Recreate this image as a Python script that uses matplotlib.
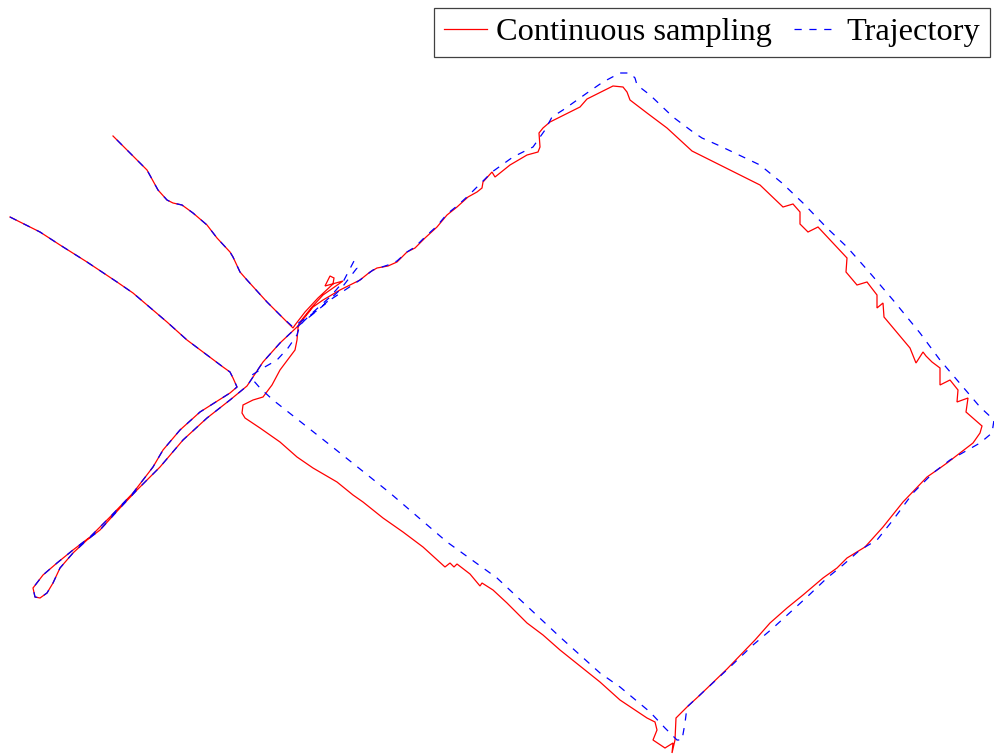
import matplotlib
matplotlib.use("Agg")
import matplotlib.pyplot as plt

plt.rcParams["lines.scale_dashes"] = False
plt.rcParams["font.family"] = ["Liberation Serif", "DejaVu Serif"]

# Ground-truth trajectory (planar position, map units; y grows downward)
traj_x = [10, 20, 40, 60, 87, 117, 133, 153, 167, 187, 207, 223, 230, 233, 237,
          230, 200, 180, 163, 153, 143, 133, 110, 90, 73, 57, 43, 33, 35, 40, 47,
          53, 60, 73, 87, 100, 120, 137, 160, 183, 207, 230, 247, 263, 280, 297,
          313, 330, 345, 360, 373, 388, 397, 407, 415, 425, 437, 447, 457, 468,
          480, 492, 513, 533, 545, 552, 563, 587, 603, 620, 630, 635, 637, 650,
          673, 693, 702, 720, 760, 782, 803, 827, 847, 870, 893, 920, 940, 980,
          994, 992, 980, 950, 933, 913, 893, 877, 860, 843, 827, 807, 773, 753,
          730, 700, 687, 685, 682, 677, 665, 650, 620, 600, 560, 497, 447, 390,
          330, 273, 260, 253, 252, 263, 277, 288, 297, 300, 310, 330, 343, 354,
          357, 340, 318, 300, 293,
          283, 267, 247, 240, 233, 230, 217, 207, 193, 182, 173, 167, 158, 147,
          127, 113]
traj_y = [217, 222, 232, 245, 262, 282, 293, 310, 322, 340, 355, 367, 372, 378, 387,
          393, 412, 430, 450, 467, 480, 493, 517, 537, 550, 563, 575, 588, 597, 598,
          593, 583, 568, 553, 540, 530, 508, 490, 467, 440, 418, 400, 386, 362, 343,
          327, 314, 300, 290, 280, 270, 265, 261, 252, 247, 237, 226, 214, 206, 196,
          184, 172, 157, 147, 130, 117, 110, 93, 82, 73, 73, 78, 85, 95, 117, 132,
          138, 146, 165, 183, 203, 228, 247, 273, 300, 333, 360, 407, 420, 433, 443,
          460, 473, 493, 520, 540, 550, 565, 578, 597, 628, 645, 667, 695, 707, 723,
          740, 740, 728, 712, 687, 673, 637, 578, 542, 493, 445, 400, 388, 380, 375,
          368, 360, 348, 335, 325, 315, 297, 282, 261, 268, 290, 310, 322, 327,
          318, 302, 280, 272, 257, 252, 238, 225, 213, 205, 203, 200, 190, 170,
          150, 136]

# Continuously sampled positions
samp_x = [10, 20, 40, 60, 87, 117, 133, 153, 167, 187, 207, 223, 230, 233, 237,
          230, 200, 180, 163, 153, 143, 133, 110, 90, 73, 57, 43, 33, 35, 40, 47,
          53, 60, 73, 87, 100, 120, 137, 160, 183, 207, 230, 247, 263, 280, 297,
          313, 323, 340, 360, 370, 377, 388, 397, 407, 415, 425, 437, 447, 457,
          468, 477, 482, 483, 492, 495, 510, 527, 538, 540, 539, 543, 550, 580,
          587, 613, 623, 627, 630, 647, 667, 692, 720, 740, 760, 783, 793, 800,
          800, 808, 818, 847, 846, 857, 867, 877, 877, 883, 884, 910, 916, 923,
          926, 932, 940, 940, 950, 958, 957, 968, 966, 982, 980, 973, 947, 940,
          927, 903, 883, 865, 847, 837, 823, 803, 787, 770, 755, 727, 700, 687,
          676, 675, 672, 673, 665, 653, 657, 655, 647, 620, 600, 560, 543, 527,
          507, 493, 482, 480, 470, 457, 454, 450, 445, 423, 403, 383, 363, 353,
          337, 313, 297, 280, 260, 245, 242, 243, 253, 263, 272, 280, 295, 297,
          298, 300, 312, 323, 343, 325, 330, 334, 333, 318, 305, 295, 293,
          283, 267, 247, 240, 233, 230, 217, 207, 193, 182, 173, 167, 158, 147,
          127, 113]
samp_y = [217, 222, 232, 245, 262, 282, 293, 310, 322, 340, 355, 367, 372, 378, 387,
          393, 412, 430, 450, 467, 480, 493, 517, 537, 550, 563, 575, 588, 597, 598,
          593, 583, 568, 553, 540, 530, 508, 490, 467, 440, 418, 400, 386, 362, 343,
          327, 307, 300, 290, 280, 272, 268, 266, 262, 252, 248, 238, 227, 215, 207,
          197, 192, 188, 182, 172, 177, 165, 155, 152, 147, 133, 128, 122, 107, 99,
          86, 87, 92, 100, 113, 128, 151, 165, 175, 185, 207, 204, 212, 224, 232,
          227, 258, 272, 285, 282, 295, 308, 303, 317, 348, 363, 352, 356, 362, 368,
          385, 380, 390, 402, 398, 412, 426, 433, 443, 463, 468, 477, 502, 527, 547,
          558, 568, 578, 595, 608, 623, 640, 669, 695, 707, 718, 740, 753, 743, 748,
          740, 730, 722, 718, 700, 682, 650, 635, 623, 603, 590, 583, 586, 574, 564,
          567, 563, 567, 547, 532, 518, 502, 495, 482, 468, 457, 442, 428, 418, 413,
          405, 400, 397, 385, 370, 350, 340, 328, 322, 307, 295, 281, 286, 276, 278,
          284, 298, 312, 325, 328,
          318, 302, 280, 272, 257, 252, 238, 225, 213, 205, 203, 200, 190, 170,
          150, 136]

fig = plt.figure(figsize=(9.94, 7.55), dpi=100)
ax = fig.add_axes([0, 0, 1, 1])
ax.set_xlim(0, 994)
ax.set_ylim(755, 0)
ax.axis("off")

ax.plot(samp_x, samp_y, color="#ff0000", lw=0.9, label="Continuous sampling",
        solid_joinstyle="miter")
ax.plot(traj_x, traj_y, color="#0000ff", lw=0.9, linestyle=(0, (5.2, 5.5)),
        label="Trajectory")

leg = fig.legend(loc="upper right", bbox_to_anchor=(990 / 994, 1 - 8 / 755),
                 ncol=2, fontsize=23.3, frameon=True, fancybox=False,
                 edgecolor="#404040", framealpha=1, borderaxespad=0,
                 handlelength=1.33, handletextpad=0.28, columnspacing=0.7,
                 borderpad=0.3)
leg.get_frame().set_linewidth(0.9)

fig.savefig("out.png", dpi=100)
